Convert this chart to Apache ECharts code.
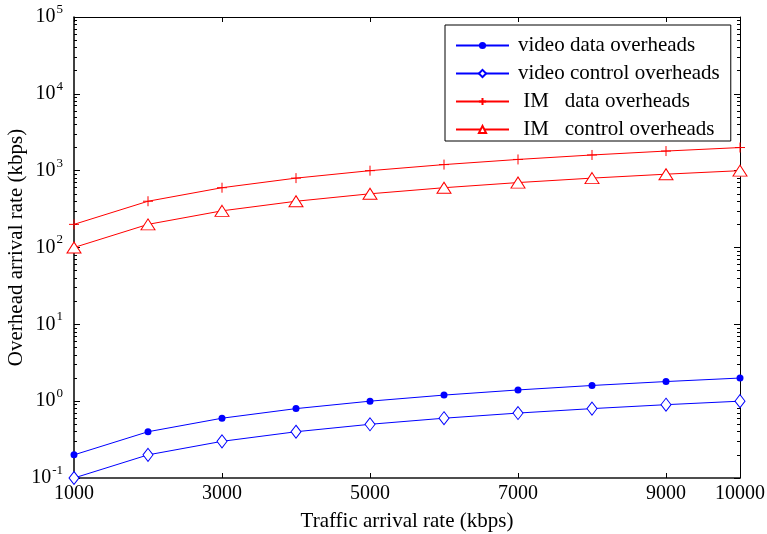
<!DOCTYPE html>
<html><head><meta charset="utf-8">
<script src="https://cdn.jsdelivr.net/npm/echarts@6/dist/echarts.min.js"></script>
<style>html,body{margin:0;padding:0;background:#fff}#c{width:767px;height:534px}</style>
</head><body><div id="c"></div>
<script>
const trafficRates = [1000, 2000, 3000, 4000, 5000, 6000, 7000, 8000, 9000, 10000];
const videoData = [0.2, 0.4, 0.6, 0.8, 1.0, 1.2, 1.4, 1.6, 1.8, 2.0];
const videoControl = [0.1, 0.2, 0.3, 0.4, 0.5, 0.6, 0.7, 0.8, 0.9, 1.0];
const imData = [200, 400, 600, 800, 1000, 1200, 1400, 1600, 1800, 2000];
const imControl = [100, 200, 300, 400, 500, 600, 700, 800, 900, 1000];
const xTicks = [1000, 3000, 5000, 7000, 9000, 10000];
const yMajor = [0.1, 1, 10, 100, 1000, 10000, 100000];
const seriesNames = ['video data overheads', 'video control overheads', ' IM   data overheads', ' IM   control overheads'];

const yMinor = [];
for (let d = -1; d <= 4; d++) for (let k = 2; k <= 9; k++) yMinor.push(+(k * Math.pow(10, d)).toPrecision(3));

const FONT = 'Liberation Serif';
const pair = a => trafficRates.map((x, i) => [x, a[i]]);
const BLUE = '#0000ff', RED = '#ff0000';

const chart = echarts.init(document.getElementById('c'), null, {renderer: 'canvas'});
const grid = {left: 74, right: 27, top: 17, bottom: 56, outerBoundsMode: 'none', containLabel: false};
const yBase = {type: 'log', min: 0.1, max: 100000, logBase: 10, splitLine: {show: false}};
chart.setOption({
  animation: false,
  backgroundColor: '#fff',
  grid: grid,
  legend: {
    orient: 'vertical', left: 445, top: 25,
    backgroundColor: '#fff', borderColor: '#000', borderWidth: 1,
    padding: [10, 11, 1, 10],
    itemWidth: 53, itemHeight: 9, itemGap: 7,
    textStyle: {fontFamily: FONT, fontSize: 21, lineHeight: 21, color: '#000', padding: [0, 0, 0, 4]},
    data: seriesNames
  },
  xAxis: [{
    type: 'value', min: 1000, max: 10000, position: 'bottom',
    name: 'Traffic arrival rate (kbps)', nameLocation: 'middle', nameGap: 33, nameMoveOverlap: false,
    nameTextStyle: {fontFamily: FONT, fontSize: 21, color: '#000'},
    axisLine: {show: true, lineStyle: {color: '#4d4d4d', width: 2}},
    axisTick: {show: true, inside: true, length: 5, customValues: xTicks, lineStyle: {color: '#000'}},
    axisLabel: {customValues: xTicks, formatter: v => String(v), fontFamily: FONT, fontSize: 20, color: '#000', margin: 6},
    splitLine: {show: false}
  }, {
    type: 'value', min: 1000, max: 10000, position: 'top',
    axisLine: {show: true, lineStyle: {color: '#000', width: 1}},
    axisTick: {show: true, inside: true, length: 5, customValues: xTicks, lineStyle: {color: '#000'}},
    axisLabel: {show: false}, splitLine: {show: false}
  }],
  yAxis: [Object.assign({}, yBase, {
    position: 'left',
    name: 'Overhead arrival rate (kbps)', nameLocation: 'middle', nameGap: 47, nameMoveOverlap: false,
    nameTextStyle: {fontFamily: FONT, fontSize: 21, color: '#000'},
    axisLine: {show: true, lineStyle: {color: '#000', width: 1.5}},
    axisTick: {show: true, inside: true, length: 6, customValues: yMajor, lineStyle: {color: '#000'}},
    axisLabel: {
      customValues: yMajor, margin: 11,
      formatter: v => '{b|10}{s|' + Math.round(Math.log10(v)) + '}',
      rich: {
        b: {fontFamily: FONT, fontSize: 20, color: '#000', lineHeight: 20},
        s: {fontFamily: FONT, fontSize: 13, color: '#000', padding: [0, 0, 15, 1]}
      }
    }
  }), Object.assign({}, yBase, {
    position: 'left',
    axisLine: {show: false},
    axisTick: {show: true, inside: true, length: 3, customValues: yMinor, lineStyle: {color: '#000'}},
    axisLabel: {show: false}
  }), Object.assign({}, yBase, {
    position: 'right',
    axisLine: {show: true, lineStyle: {color: '#000', width: 1}},
    axisTick: {show: true, inside: true, length: 6, customValues: yMajor, lineStyle: {color: '#000'}},
    axisLabel: {show: false}
  }), Object.assign({}, yBase, {
    position: 'right',
    axisLine: {show: false},
    axisTick: {show: true, inside: true, length: 3, customValues: yMinor, lineStyle: {color: '#000'}},
    axisLabel: {show: false}
  })],
  series: [{
    name: seriesNames[0], type: 'line', data: pair(videoData),
    symbol: 'circle', symbolSize: 7,
    itemStyle: {color: BLUE}, lineStyle: {color: BLUE, width: 1}
  }, {
    name: seriesNames[1], type: 'line', data: pair(videoControl),
    symbol: 'diamond', symbolSize: [10, 13],
    itemStyle: {color: '#fff', borderColor: BLUE, borderWidth: 1}, lineStyle: {color: BLUE, width: 1}
  }, {
    name: seriesNames[2], type: 'line', data: pair(imData),
    symbol: 'path://M0,5L10,5M5,0L5,10', symbolSize: 10, symbolKeepAspect: true,
    itemStyle: {color: RED, borderColor: RED, borderWidth: 1}, lineStyle: {color: RED, width: 1}
  }, {
    name: seriesNames[3], type: 'line', data: pair(imControl),
    symbol: 'triangle', symbolSize: [14, 11],
    itemStyle: {color: '#fff', borderColor: RED, borderWidth: 1}, lineStyle: {color: RED, width: 1}
  }]
});
</script></body></html>
